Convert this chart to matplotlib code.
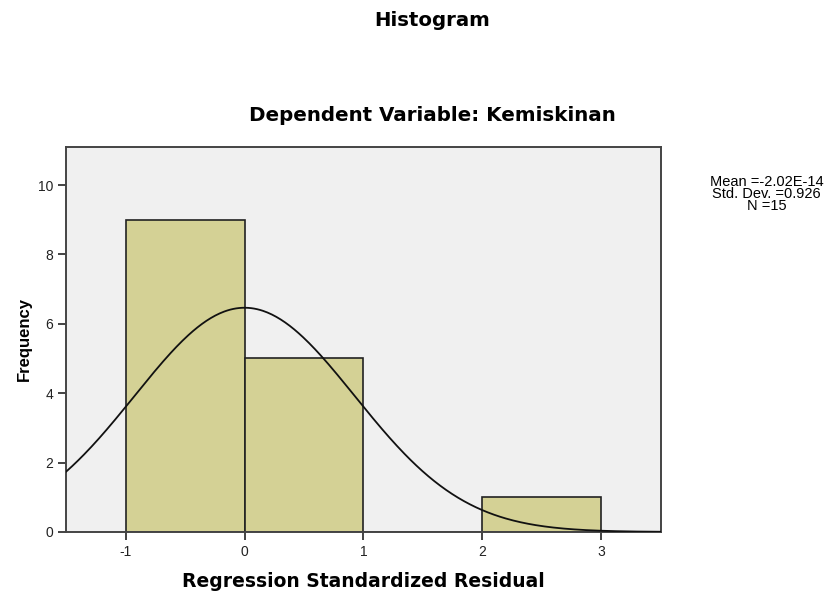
import numpy as np
import matplotlib.pyplot as plt

plt.rcParams['font.family'] = ['Liberation Sans', 'DejaVu Sans']
plt.rcParams['axes.unicode_minus'] = False

# histogram data (SPSS output)
bin_edges = [-1, 0, 1, 2, 3]
counts = [9, 5, 0, 1]
mean = -2.02e-14
std_dev = 0.926
n = 15

fig = plt.figure(figsize=(8.28, 5.97), dpi=100)
ax = fig.add_axes([0.08, 0.109, 0.718, 0.645])
ax.set_facecolor('#f0f0f0')

lefts = bin_edges[:-1]
widths = np.diff(bin_edges)
ax.bar(lefts, counts, width=widths, align='edge', color='#d4d195',
       edgecolor='#222222', linewidth=1.2, zorder=2)

# normal curve scaled to counts
x = np.linspace(-1.5, 3.5, 400)
y = n * widths[0] / (std_dev * np.sqrt(2 * np.pi)) * np.exp(-0.5 * ((x - mean) / std_dev) ** 2)
ax.plot(x, y, color='#111111', linewidth=1.3, zorder=3)

ax.set_xlim(-1.5, 3.5)
ax.set_ylim(0, 11.1)
ax.set_xticks([-1, 0, 1, 2, 3])
ax.set_yticks([0, 2, 4, 6, 8, 10])
ax.tick_params(direction='out', length=6, width=1.2, labelsize=10, colors='#222222')
for s in ax.spines.values():
    s.set_linewidth(1.4)
    s.set_color('#444444')

ax.set_xlabel('Regression Standardized Residual', fontsize=13.5, fontweight='bold',
              labelpad=9, family='DejaVu Sans')
ax.set_ylabel('Frequency', fontsize=12, fontweight='bold', labelpad=4)

fig.text(0.522, 0.965, 'Histogram', ha='center', va='center', fontsize=14.2,
         fontweight='bold', family='DejaVu Sans')
fig.text(0.522, 0.806, 'Dependent Variable: Kemiskinan', ha='center', va='center',
         fontsize=14.3, fontweight='bold', family='DejaVu Sans')
fig.text(0.926, 0.675, 'Mean =-2.02E-14\nStd. Dev. =0.926\nN =15', ha='center', va='center',
         fontsize=10.5, linespacing=0.85)

fig.savefig('out.png', dpi=100)
